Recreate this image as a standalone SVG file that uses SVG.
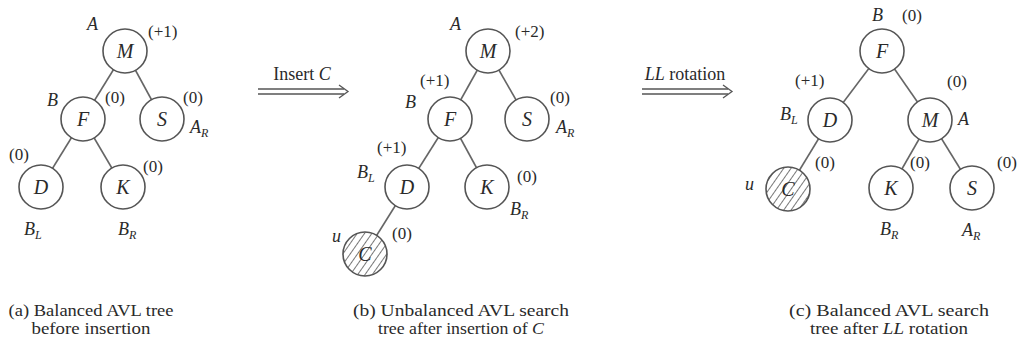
<svg xmlns="http://www.w3.org/2000/svg" width="1019" height="345" viewBox="0 0 1019 345">
<style>
text{font-family:"Liberation Serif","DejaVu Serif","Times New Roman",serif;fill:#2a2a2a}
.n{font-size:20px;font-style:italic;text-anchor:middle}
.b{font-size:17px}
.t{font-size:18px}
.l{font-size:18px;font-style:italic}
.s{font-size:12px}
.cap{font-size:17px;text-anchor:middle}
circle{fill:#fff;stroke:#555;stroke-width:1.6}
circle.h{fill:url(#hatch)}
.e line{stroke:#666;stroke-width:1.6}
.arr line,.arr path{stroke:#555;stroke-width:1.3;fill:none}
</style>
<defs>
<pattern id="hatch" patternUnits="userSpaceOnUse" width="6" height="6" patternTransform="rotate(35)">
<rect width="6" height="6" fill="#fff"/>
<line x1="0" y1="0" x2="0" y2="6" stroke="#555" stroke-width="1.6"/>
</pattern>
</defs>
<rect width="1019" height="345" fill="#fff"/>
<g id="connectors" class="e">
<line x1="125" y1="51" x2="83" y2="119"/>
<line x1="125" y1="51" x2="162" y2="119"/>
<line x1="83" y1="119" x2="41" y2="187"/>
<line x1="83" y1="119" x2="123" y2="187"/>
<line x1="488" y1="51" x2="450" y2="119"/>
<line x1="488" y1="51" x2="527" y2="119"/>
<line x1="450" y1="119" x2="407" y2="187"/>
<line x1="450" y1="119" x2="487" y2="187"/>
<line x1="407" y1="187" x2="365" y2="254"/>
<line x1="882" y1="51" x2="830" y2="120"/>
<line x1="882" y1="51" x2="930" y2="120"/>
<line x1="830" y1="120" x2="788" y2="189"/>
<line x1="930" y1="120" x2="891" y2="188"/>
<line x1="930" y1="120" x2="972" y2="188"/>
</g>
<g id="arrow-insert" class="arr">
<line x1="258" y1="89" x2="344" y2="89"/>
<line x1="258" y1="94" x2="344" y2="94"/>
<path d="M339,85 L348,91.5 L339,98"/>
<text x="302" y="80" class="t" text-anchor="middle">Insert <tspan font-style="italic">C</tspan></text>
</g>
<g id="arrow-ll" class="arr">
<line x1="642" y1="89" x2="728" y2="89"/>
<line x1="642" y1="94" x2="728" y2="94"/>
<path d="M723,85 L732,91.5 L723,98"/>
<text x="685" y="80" class="t" text-anchor="middle"><tspan font-style="italic">LL</tspan> rotation</text>
</g>
<!-- Tree a -->
<g id="a-M"><circle cx="125" cy="51" r="22"/><text x="125" y="58" class="n">M</text></g>
<g id="a-F"><circle cx="83" cy="119" r="22"/><text x="83" y="126" class="n">F</text></g>
<g id="a-S"><circle cx="162" cy="119" r="22"/><text x="162" y="126" class="n">S</text></g>
<g id="a-D"><circle cx="41" cy="187" r="22"/><text x="41" y="194" class="n">D</text></g>
<g id="a-K"><circle cx="123" cy="187" r="22"/><text x="123" y="194" class="n">K</text></g>
<g id="a-labels">
<text x="87" y="30" class="l">A</text>
<text x="148" y="37" class="b">(+1)</text>
<text x="47" y="106" class="l">B</text>
<text x="105" y="103" class="b">(0)</text>
<text x="183" y="103" class="b">(0)</text>
<text x="190" y="133" class="l">A<tspan class="s" dy="4">R</tspan></text>
<text x="9" y="160" class="b">(0)</text>
<text x="143" y="172" class="b">(0)</text>
<text x="24" y="235" class="l">B<tspan class="s" dy="4">L</tspan></text>
<text x="118" y="235" class="l">B<tspan class="s" dy="4">R</tspan></text>
</g>
<!-- Tree b -->
<g id="b-M"><circle cx="488" cy="51" r="22"/><text x="488" y="58" class="n">M</text></g>
<g id="b-F"><circle cx="450" cy="119" r="22"/><text x="450" y="126" class="n">F</text></g>
<g id="b-S"><circle cx="527" cy="119" r="22"/><text x="527" y="126" class="n">S</text></g>
<g id="b-D"><circle cx="407" cy="187" r="22"/><text x="407" y="194" class="n">D</text></g>
<g id="b-K"><circle cx="487" cy="187" r="22"/><text x="487" y="194" class="n">K</text></g>
<g id="b-C"><circle class="h" cx="365" cy="254" r="22"/><text x="365" y="261" class="n">C</text></g>
<g id="b-labels">
<text x="450" y="30" class="l">A</text>
<text x="515" y="37" class="b">(+2)</text>
<text x="420" y="86" class="b">(+1)</text>
<text x="405" y="108" class="l">B</text>
<text x="550" y="103" class="b">(0)</text>
<text x="556" y="133" class="l">A<tspan class="s" dy="4">R</tspan></text>
<text x="377" y="153" class="b">(+1)</text>
<text x="357" y="178" class="l">B<tspan class="s" dy="4">L</tspan></text>
<text x="517" y="182" class="b">(0)</text>
<text x="510" y="215" class="l">B<tspan class="s" dy="4">R</tspan></text>
<text x="332" y="242" class="l">u</text>
<text x="392" y="239" class="b">(0)</text>
</g>
<!-- Tree c -->
<g id="c-F"><circle cx="882" cy="51" r="22"/><text x="882" y="58" class="n">F</text></g>
<g id="c-D"><circle cx="830" cy="120" r="22"/><text x="830" y="127" class="n">D</text></g>
<g id="c-M"><circle cx="930" cy="120" r="22"/><text x="930" y="127" class="n">M</text></g>
<g id="c-C"><circle class="h" cx="788" cy="189" r="22"/><text x="788" y="196" class="n">C</text></g>
<g id="c-K"><circle cx="891" cy="188" r="22"/><text x="891" y="195" class="n">K</text></g>
<g id="c-S"><circle cx="972" cy="188" r="22"/><text x="972" y="195" class="n">S</text></g>
<g id="c-labels">
<text x="872" y="21" class="l">B</text>
<text x="902" y="21" class="b">(0)</text>
<text x="795" y="86" class="b">(+1)</text>
<text x="780" y="120" class="l">B<tspan class="s" dy="4">L</tspan></text>
<text x="947" y="87" class="b">(0)</text>
<text x="958" y="125" class="l">A</text>
<text x="815" y="168" class="b">(0)</text>
<text x="910" y="168" class="b">(0)</text>
<text x="997" y="168" class="b">(0)</text>
<text x="745" y="190" class="l">u</text>
<text x="880" y="235" class="l">B<tspan class="s" dy="4">R</tspan></text>
<text x="962" y="236" class="l">A<tspan class="s" dy="4">R</tspan></text>
</g>
<!-- Captions -->
<g id="captions">
<text x="91" y="316" class="cap" textLength="165" lengthAdjust="spacingAndGlyphs">(a) Balanced AVL tree</text>
<text x="91" y="334" class="cap" textLength="119" lengthAdjust="spacingAndGlyphs">before insertion</text>
<text x="461" y="316" class="cap" textLength="216" lengthAdjust="spacingAndGlyphs">(b) Unbalanced AVL search</text>
<text x="461" y="334" class="cap" textLength="166" lengthAdjust="spacingAndGlyphs">tree after insertion of <tspan font-style="italic">C</tspan></text>
<text x="889" y="316" class="cap" textLength="200" lengthAdjust="spacingAndGlyphs">(c) Balanced AVL search</text>
<text x="889" y="334" class="cap" textLength="158" lengthAdjust="spacingAndGlyphs">tree after <tspan font-style="italic">LL</tspan> rotation</text>
</g>
</svg>
